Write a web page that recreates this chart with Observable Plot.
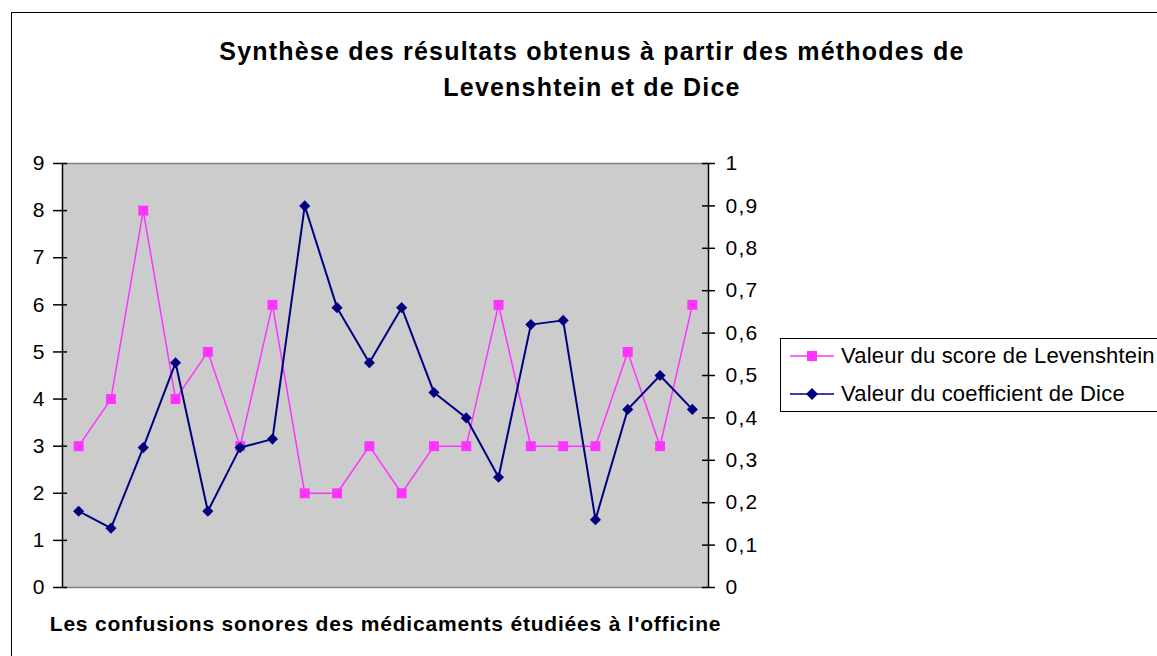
<!DOCTYPE html>
<html><head><meta charset="utf-8">
<script src="https://cdn.jsdelivr.net/npm/d3@7"></script>
<script src="https://cdn.jsdelivr.net/npm/@observablehq/plot@0.6"></script>
<style>
body{margin:0;background:#fff;font-family:Arial,"Liberation Sans",sans-serif;}
#wrap{position:relative;width:1157px;height:656px;overflow:hidden;}
#border{position:absolute;left:11px;top:12px;width:1300px;height:800px;border:1.5px solid #000;box-sizing:border-box;}
#title{position:absolute;left:0;width:1184px;top:33px;text-align:center;font-weight:bold;font-size:25px;letter-spacing:1.2px;line-height:36px;color:#000;}
#chart{position:absolute;left:0;top:0;}
#legend{position:absolute;left:780px;top:338px;width:500px;height:74px;border:1px solid #000;box-sizing:border-box;background:#fff;}
.row{position:absolute;left:9px;height:26px;display:flex;align-items:center;font-size:22px;letter-spacing:0.2px;white-space:nowrap;}
.row svg{margin-right:7px;}
</style>
</head><body>
<div id="wrap">
  <div id="border"></div>
  <div id="title"></div>
  <div id="chart"></div>
  <div id="legend"></div>
</div>
<script>
const titleLines = ["Synthèse des résultats obtenus à partir des méthodes de", "Levenshtein et de Dice"];
const xLabel = "Les confusions sonores des médicaments étudiées à l'officine";
const categories = d3.range(1, 21);
const levenshtein = [3, 4, 8, 4, 5, 3, 6, 2, 2, 3, 2, 3, 3, 6, 3, 3, 3, 5, 3, 6];
const dice = [0.18, 0.14, 0.33, 0.53, 0.18, 0.33, 0.35, 0.90, 0.66, 0.53, 0.66, 0.46, 0.40, 0.26, 0.62, 0.63, 0.16, 0.42, 0.50, 0.42];
const leftTicks = [0, 1, 2, 3, 4, 5, 6, 7, 8, 9];
const rightTicks = [0, 0.1, 0.2, 0.3, 0.4, 0.5, 0.6, 0.7, 0.8, 0.9, 1];
const rightTickLabels = ["0", "0,1", "0,2", "0,3", "0,4", "0,5", "0,6", "0,7", "0,8", "0,9", "1"];
const seriesNames = ["Valeur du score de Levenshtein", "Valeur du coefficient de Dice"];

const pink = "#ff33ff", navy = "#000080";
const ratio = 9; // right axis (0..1) mapped onto left axis (0..9)
const frameW = 1157 - 62 - 449;

const data = categories.map((c, i) => ({c, lev: levenshtein[i], dice: dice[i]}));
const rightTickData = rightTicks.map((v, i) => ({y: v * ratio, label: rightTickLabels[i]}));

document.getElementById("title").innerHTML = titleLines.map(t => `<div>${t}</div>`).join("");

const plot = Plot.plot({
  width: 1157, height: 656,
  marginLeft: 62, marginRight: 449, marginTop: 163, marginBottom: 69,
  x: {type: "linear", domain: [0.5, 20.5], axis: null},
  y: {domain: [0, 9], axis: null, label: null},
  style: {fontFamily: "Arial, 'Liberation Sans', sans-serif", fontSize: "21px", color: "#000", background: "transparent", overflow: "visible"},
  marks: [
    Plot.frame({fill: "#cccccc", stroke: "none"}),
    Plot.ruleY([0, 9], {stroke: "#808080", strokeWidth: 1.5}),
    Plot.ruleX([0.5, 20.5], {stroke: "#000", strokeWidth: 1.5}),
    // left axis: crossing ticks + labels
    Plot.tickY(leftTicks, {y: d => d, stroke: "#000", strokeWidth: 1.5, insetLeft: -9, insetRight: frameW - 5}),
    Plot.text(leftTicks, {y: d => d, text: d => String(d), frameAnchor: "left", textAnchor: "end", dx: -18, fontSize: 21}),
    // right axis: crossing ticks + labels
    Plot.tickY(rightTickData, {y: "y", stroke: "#000", strokeWidth: 1.5, insetLeft: frameW - 6, insetRight: -7}),
    Plot.text(rightTickData, {y: "y", text: "label", frameAnchor: "right", textAnchor: "start", dx: 17, fontSize: 21}),
    Plot.line(data, {x: "c", y: "lev", stroke: pink, strokeWidth: 1.5}),
    Plot.dot(data, {x: "c", y: "lev", symbol: "square", r: 5.6, fill: pink, stroke: "none"}),
    Plot.line(data, {x: "c", y: d => d.dice * ratio, stroke: navy, strokeWidth: 2}),
    Plot.dot(data, {x: "c", y: d => d.dice * ratio, symbol: "diamond2", r: 5, fill: navy, stroke: "none"}),
    Plot.text([xLabel], {text: d => d, frameAnchor: "bottom", dy: 43, fontWeight: "bold", fontSize: 21})
  ]
});
document.getElementById("chart").appendChild(plot);
// letter spacing on text
plot.querySelectorAll("text").forEach(t => {
  if (t.textContent === xLabel) t.setAttribute("letter-spacing", "0.8");
  else if (t.textContent.includes(",")) t.setAttribute("letter-spacing", "1.2");
});

const sw = (color, sym) => {
  const mk = sym === "square"
    ? `<rect x="17" y="4" width="10" height="10" fill="${color}"/>`
    : `<path d="M22,3 L28,9 L22,15 L16,9 Z" fill="${color}"/>`;
  return `<svg width="44" height="18"><line x1="0" x2="44" y1="9" y2="9" stroke="${color}" stroke-width="1.5"/>${mk}</svg>`;
};
document.getElementById("legend").innerHTML =
  `<div class="row" style="top:4px">${sw(pink, "square")}<span>${seriesNames[0]}</span></div>` +
  `<div class="row" style="top:42px">${sw(navy, "diamond")}<span>${seriesNames[1]}</span></div>`;
</script>
</body></html>
